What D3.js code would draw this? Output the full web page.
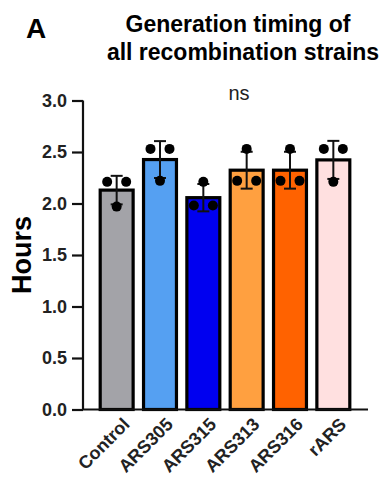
<!DOCTYPE html>
<meta charset="utf-8">
<script src="https://d3js.org/d3.v7.min.js"></script>
<style>
  body { margin: 0; background: #fff; }
  text { font-family: "Liberation Sans", Arial, sans-serif; }
</style>
<body>
<svg id="chart" width="386" height="482"></svg>
<script>
// data
const strains = ["Control", "ARS305", "ARS315", "ARS313", "ARS316", "rARS"];
const colors = ["#a3a3a8", "#55a0f2", "#0000f0", "#ffa040", "#ff6200", "#ffe0e0"];
// three replicate values per strain (hours)
const rep1 = [2.21, 2.53, 1.98, 2.22, 2.22, 2.53];
const rep2 = [1.97, 2.22, 2.21, 2.53, 2.53, 2.21];
const rep3 = [2.21, 2.53, 1.98, 2.22, 2.22, 2.53];
const yTicks = [0, 0.5, 1.0, 1.5, 2.0, 2.5, 3.0];

const svg = d3.select("#chart");

const x = d3.scaleBand().domain(strains).range([95, 355]).paddingInner(0.24).paddingOuter(0.12);
const y = d3.scaleLinear().domain([0, 3]).range([409.5, 100.5]);

const rows = strains.map((s, i) => {
  const vals = [rep1[i], rep2[i], rep3[i]];
  return { name: s, color: colors[i], vals: vals, mean: d3.mean(vals), sd: d3.deviation(vals) };
});

// bars
svg.append("g").selectAll("rect")
  .data(rows)
  .join("rect")
    .attr("x", d => x(d.name))
    .attr("y", d => y(d.mean))
    .attr("width", x.bandwidth())
    .attr("height", d => y(0) - y(d.mean))
    .attr("fill", d => d.color)
    .attr("stroke", "#000")
    .attr("stroke-width", 3.2);

// error bars (mean +/- SD)
const eb = svg.append("g").attr("stroke", "#111").attr("stroke-width", 2);
rows.forEach(d => {
  const cx = x(d.name) + x.bandwidth() / 2;
  eb.append("line").attr("x1", cx).attr("x2", cx).attr("y1", y(d.mean + d.sd)).attr("y2", y(d.mean - d.sd));
  [d.mean + d.sd, d.mean - d.sd].forEach(v => {
    eb.append("line").attr("x1", cx - 6).attr("x2", cx + 6).attr("y1", y(v)).attr("y2", y(v));
  });
});

// replicate dots (left, centre, right)
const offs = [-9.5, 0, 9.5];
rows.forEach(d => {
  const cx = x(d.name) + x.bandwidth() / 2;
  // pairs of equal values go left/right, the odd one in the middle
  const v = d.vals;
  let mid = 0;
  if (v[0] === v[2]) mid = 1; else if (v[1] === v[2]) mid = 0; else mid = 2;
  const side = [0, 1, 2].filter(k => k !== mid);
  const pts = [
    { cx: cx + offs[0], v: v[side[0]] },
    { cx: cx, v: v[mid] },
    { cx: cx + offs[2], v: v[side[1]] }
  ];
  svg.append("g").selectAll("circle")
    .data(pts)
    .join("circle")
      .attr("cx", p => p.cx)
      .attr("cy", p => y(p.v))
      .attr("r", 5)
      .attr("fill", "#000");
});

// y axis
const yAxis = svg.append("g")
  .attr("transform", "translate(83,0)")
  .call(d3.axisLeft(y).tickValues(yTicks).tickFormat(d3.format(".1f")).tickSize(11).tickPadding(5));
yAxis.select(".domain").attr("stroke", "#111").attr("stroke-width", 2.2).attr("d", `M0,${y(3)}V${y(0)}`);
yAxis.selectAll(".tick line").attr("stroke", "#111").attr("stroke-width", 2.2);
yAxis.selectAll(".tick text").attr("fill", "#222").style("font-size", "18px").style("font-weight", "bold");

// x axis line
svg.append("line")
  .attr("x1", 82).attr("x2", 368)
  .attr("y1", y(0)).attr("y2", y(0))
  .attr("stroke", "#111").attr("stroke-width", 2.2);

// x labels rotated
svg.append("g").selectAll("text")
  .data(strains)
  .join("text")
    .attr("transform", d => `translate(${x(d) + x.bandwidth() / 2 + 14},${y(0) + 16}) rotate(-45)`)
    .attr("text-anchor", "end")
    .attr("fill", "#222")
    .style("font-size", "18px")
    .style("font-weight", "bold")
    .text(d => d);

// y label
svg.append("text")
  .attr("transform", "translate(31,255) rotate(-90)")
  .attr("text-anchor", "middle")
  .style("font-size", "27px")
  .style("font-weight", "bold")
  .text("Hours");

// title and panel letter
svg.append("text").attr("x", 26).attr("y", 38)
  .style("font-size", "28px").style("font-weight", "bold").text("A");
const title = svg.append("g").style("font-size", "23px").style("font-weight", "bold").attr("text-anchor", "middle");
title.append("text").attr("x", 238).attr("y", 32).text("Generation timing of");
title.append("text").attr("x", 243).attr("y", 60).text("all recombination strains");

// significance
svg.append("text").attr("x", 239).attr("y", 100).attr("text-anchor", "middle")
  .style("font-size", "20px").attr("fill", "#222").text("ns");
</script>
</body>
